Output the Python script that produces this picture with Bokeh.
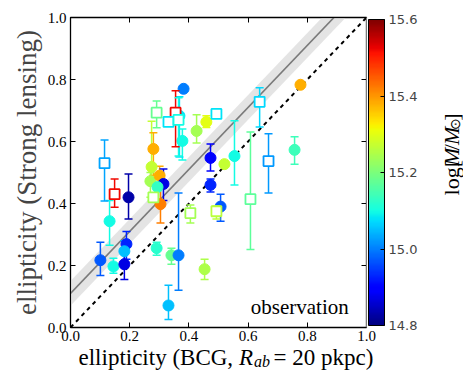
import numpy as np
from bokeh.plotting import figure
from bokeh.layouts import row, column
from bokeh.models import (LinearAxis, ColorBar, LinearColorMapper, FixedTicker,
                          PrintfTickFormatter, Label, Range1d, ColumnDataSource)
from bokeh.transform import transform
from bokeh.embed import file_html
from bokeh.resources import INLINE

# ---------------- data ----------------
circ_x = [0.777, 0.382, 0.368, 0.378, 0.426, 0.459, 0.280, 0.274, 0.270, 0.301,
          0.314, 0.294, 0.304, 0.196, 0.473, 0.473, 0.520, 0.554, 0.757, 0.132,
          0.101, 0.145, 0.189, 0.182, 0.182, 0.291, 0.341, 0.365, 0.331, 0.453, 0.507]
circ_y = [0.783, 0.770, 0.683, 0.602, 0.634, 0.663, 0.576, 0.518, 0.472, 0.490,
          0.463, 0.453, 0.398, 0.420, 0.460, 0.547, 0.527, 0.553, 0.573, 0.343,
          0.217, 0.197, 0.269, 0.246, 0.204, 0.256, 0.233, 0.233, 0.071, 0.188, 0.390]
circ_lo = [np.nan, np.nan, 0.550, 0.540, 0.595, 0.645, 0.490, 0.470, 0.420, 0.460,
           0.410, np.nan, 0.337, 0.350, 0.437, 0.505, np.nan, 0.460, 0.527, 0.265,
           0.168, 0.175, 0.220, 0.210, 0.155, 0.233, 0.204, 0.120, 0.026, 0.155, 0.343]
circ_hi = [np.nan, np.nan, 0.744, 0.640, 0.686, 0.683, 0.628, 0.665, 0.500, 0.520,
           0.511, np.nan, 0.447, 0.495, 0.479, 0.592, np.nan, 0.667, 0.615, 0.410,
           0.275, 0.223, 0.310, 0.280, 0.240, 0.275, 0.256, 0.434, 0.136, 0.220, 0.430]
circ_mass = [15.38, 15.00, 15.08, 15.10, 15.24, 15.30, 15.38, 15.27, 15.24, 15.38,
             14.87, 15.13, 15.42, 14.83, 14.93, 14.90, 15.27, 15.10, 15.14, 15.10,
             14.97, 15.10, 14.93, 15.05, 14.87, 15.12, 15.18, 15.00, 15.05, 15.25, 14.97]

sq_x = [0.115, 0.149, 0.291, 0.355, 0.331, 0.365, 0.493, 0.639, 0.669, 0.608, 0.405, 0.493, 0.280]
sq_y = [0.530, 0.430, 0.693, 0.693, 0.663, 0.670, 0.689, 0.728, 0.537, 0.414, 0.369, 0.375, 0.420]
sq_lo = [0.408, 0.388, 0.644, 0.583, np.nan, 0.553, np.nan, 0.647, 0.434, 0.252, 0.337, 0.350, np.nan]
sq_hi = [0.605, 0.479, 0.731, 0.764, np.nan, 0.741, np.nan, 0.773, 0.625, 0.631, 0.395, 0.392, np.nan]
sq_mass = [15.03, 15.52, 15.18, 15.52, 15.08, 15.10, 15.08, 15.07, 15.02, 15.17, 15.24, 15.26, 15.24]

fit_slope = 1.0
fit_intercept = 0.11
fit_spread = 0.04

axis_ticks = [0.0, 0.2, 0.4, 0.6, 0.8, 1.0]
mass_ticks = [14.8, 15.0, 15.2, 15.4, 15.6]
mass_low, mass_high = 14.8, 15.6


def jet(n=256):
    t = np.linspace(0, 1, n)
    r = np.interp(t, [0, 0.35, 0.66, 0.89, 1], [0, 0, 1, 1, 0.5])
    g = np.interp(t, [0, 0.125, 0.375, 0.64, 0.91, 1], [0, 0, 1, 1, 0, 0])
    b = np.interp(t, [0, 0.11, 0.34, 0.65, 1], [0.5, 1, 1, 0, 0])
    return ["#%02x%02x%02x" % (int(round(a * 255)), int(round(c * 255)), int(round(d * 255)))
            for a, c, d in zip(r, g, b)]


mapper = LinearColorMapper(palette=jet(), low=mass_low, high=mass_high)

SERIF = "Liberation Serif"
LEFT, TOP, FW, FH, RIGHT, BOTTOM = 70, 17, 296, 310, 72, 44
TOTAL_W, TOTAL_H = 463, 371
PH = TOP + FH + BOTTOM
P_W = LEFT + FW + RIGHT

p = figure(width=P_W, height=PH, x_range=Range1d(0, 1), y_range=Range1d(0, 1),
           output_backend="svg", toolbar_location=None,
           min_border_left=LEFT, min_border_top=TOP, min_border_bottom=BOTTOM,
           min_border_right=RIGHT)
p.background_fill_color = "white"
p.border_fill_color = "white"
p.outline_line_color = "black"
p.outline_line_width = 1.3
p.xgrid.visible = False
p.ygrid.visible = False

for axl in (p.xaxis, p.yaxis):
    axl.ticker = FixedTicker(ticks=axis_ticks)
    axl.formatter = PrintfTickFormatter(format="%.1f")
    axl.major_label_text_font = SERIF
    axl.major_label_text_font_size = "15px"
    axl.major_label_text_color = "black"
    axl.major_tick_in = 5
    axl.major_tick_out = 0
    axl.minor_tick_line_color = None
    axl.axis_line_color = "black"
    axl.major_tick_line_color = "black"
p.xaxis.major_label_standoff = 3
p.yaxis.major_label_standoff = 4
p.yaxis.axis_label = "ellipticity (Strong lensing)"
p.yaxis.axis_label_text_font = SERIF
p.yaxis.axis_label_text_font_size = "27px"
p.yaxis.axis_label_text_font_style = "normal"
p.yaxis.axis_label_standoff = 3

# tick marks on top and right (no labels)
for side in ("above", "right"):
    a = LinearAxis(ticker=FixedTicker(ticks=axis_ticks), major_tick_in=5, major_tick_out=0,
                   minor_tick_line_color=None, major_label_text_font_size="1px",
                   major_label_text_color=None, major_label_standoff=0,
                   axis_line_color="black")
    p.add_layout(a, side)

# empty spacer between the frame and the colour bar
spacer = LinearAxis(ticker=FixedTicker(ticks=[]), major_tick_in=0, major_tick_out=14,
                    major_tick_line_color=None, minor_tick_line_color=None,
                    axis_line_color=None, major_label_text_font_size="1px")
p.add_layout(spacer, "right")

cb = ColorBar(color_mapper=mapper, width=16, margin=0, padding=2,
              ticker=FixedTicker(ticks=mass_ticks), formatter=PrintfTickFormatter(format="%.1f"),
              major_label_text_font="DejaVu Sans", major_label_text_font_size="13px",
              major_tick_in=4, major_tick_out=0, major_tick_line_color="black",
              bar_line_color="black", label_standoff=4)
p.add_layout(cb, "right")

# fit band and lines
fx = np.array([0.0, 1.0])
fy = fit_slope * fx + fit_intercept
p.varea(x=fx, y1=fy - fit_spread, y2=fy + fit_spread, fill_color="#d2d2d2", fill_alpha=0.6)
p.line(x=fx, y=fy, line_color="#7a7a7a", line_width=1.6)
p.line(x=fx, y=fx, line_color="black", line_width=2, line_dash="4 4")

csrc = ColumnDataSource(dict(x=circ_x, y=circ_y, lo=circ_lo, hi=circ_hi, m=circ_mass))
ssrc = ColumnDataSource(dict(x=sq_x, y=sq_y, lo=sq_lo, hi=sq_hi, m=sq_mass))
col = transform("m", mapper)

p.segment(x0="x", y0="lo", x1="x", y1="hi", source=csrc, line_color=col, line_width=1.5)
p.scatter(x="x", y="lo", marker="dash", size=8, source=csrc, line_color=col, line_width=1.5)
p.scatter(x="x", y="hi", marker="dash", size=8, source=csrc, line_color=col, line_width=1.5)
p.scatter(x="x", y="y", marker="circle", size=11, source=csrc, fill_color=col, line_color=col)

p.segment(x0="x", y0="lo", x1="x", y1="hi", source=ssrc, line_color=col, line_width=1.5)
p.scatter(x="x", y="lo", marker="dash", size=8, source=ssrc, line_color=col, line_width=1.5)
p.scatter(x="x", y="hi", marker="dash", size=8, source=ssrc, line_color=col, line_width=1.5)
p.scatter(x="x", y="y", marker="square", size=10, source=ssrc, fill_color="white",
          line_color=col, line_width=1.8)

p.add_layout(Label(x=0.94, y=0.029, text="observation", text_align="right",
                   text_font=SERIF, text_font_size="21px", text_color="black"))


def text_canvas(w, h, transparent=False):
    f = figure(width=w, height=h, x_range=Range1d(0, w), y_range=Range1d(0, h),
               output_backend="svg", toolbar_location=None, min_border=0)
    f.axis.visible = False
    f.grid.visible = False
    f.outline_line_color = None
    if transparent:
        f.background_fill_color = None
        f.border_fill_color = None
    else:
        f.background_fill_color = "white"
        f.border_fill_color = "white"
    return f


# colour-bar label: log[M/M_sun], reading bottom to top
CBL_W = TOTAL_W - P_W
cbl = text_canvas(CBL_W, PH)
cb_parts = [("log[", 0.0, "normal", "22px", 0), ("M", 35.4, "italic", "22px", 0),
            ("/", 54.2, "normal", "22px", 0), ("M", 60.3, "italic", "22px", 0),
            ("\u2299", 78.8, "normal", "14px", 4), ("]", 89.5, "normal", "22px", 0)]
cb_start = PH - 165 - 48
for txt, off, style, size, dx in cb_parts:
    cbl.add_layout(Label(x=451 - P_W + dx, y=cb_start + off, angle=np.pi / 2, text=txt,
                         text_font=SERIF, text_font_style=style, text_font_size=size,
                         text_align="left", text_baseline="middle", text_color="black"))

# x-axis label: ellipticity (BCG, R_ab = 20 pkpc), drawn over the bottom border
XL_H = 40
XL_TOP = PH - XL_H
xl = text_canvas(TOTAL_W, XL_H, transparent=True)
xl.margin = (-XL_H, 0, 0, 0)
base = XL_TOP + XL_H - 357
xl_parts = [("ellipticity (BCG, ", 0.0, 0, "normal", "23px"),
            ("R", 160.4, 0, "italic", "23px"),
            ("ab", 175.5, -4, "italic", "16px"),
            (" = 20 pkpc)", 195.0, 0, "normal", "23px")]
for txt, off, dy, style, size in xl_parts:
    xl.add_layout(Label(x=78 + off, y=base + dy, text=txt, text_font=SERIF,
                        text_font_style=style, text_font_size=size, text_align="left",
                        text_baseline="alphabetic", text_color="black"))

layout = column(row(p, cbl, spacing=0), xl, spacing=0)
open("out.html", "w").write(file_html(layout, INLINE))
